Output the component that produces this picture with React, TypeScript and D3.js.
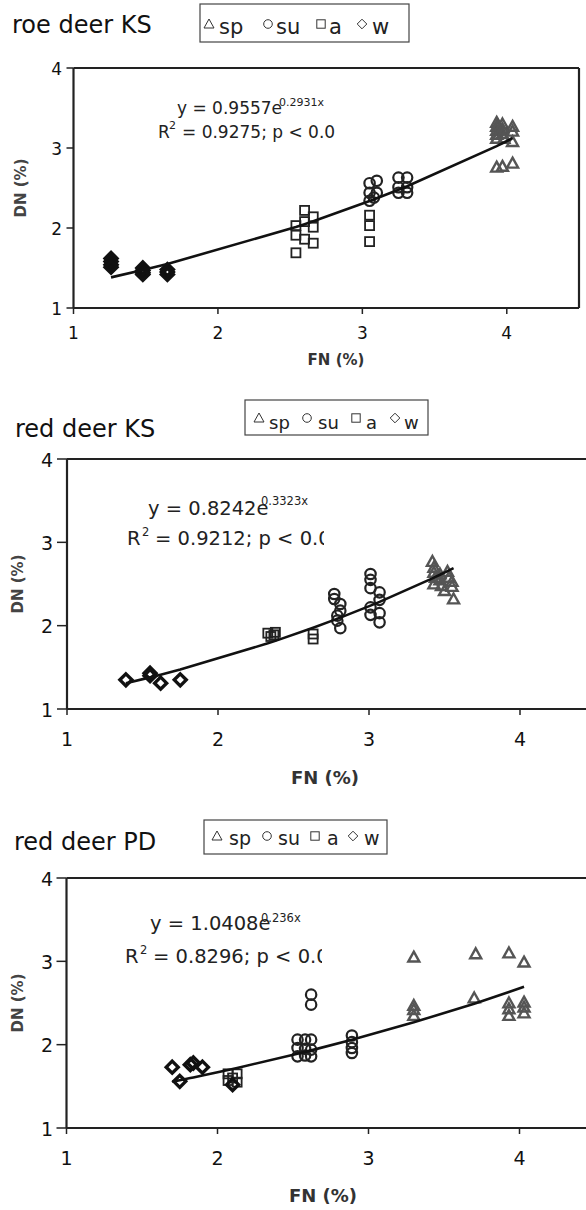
import React from "react";
import * as d3 from "d3";

type Pt = [number, number];

// ---------- roe deer KS ----------
const roeKsSpring: Pt[] = [
  [3.93, 3.32], [3.93, 3.27], [3.93, 3.22], [3.93, 3.17], [3.93, 3.12], [3.94, 3.28],
  [3.97, 3.30], [3.97, 3.24], [3.97, 3.18], [3.98, 3.12], [4.04, 3.27], [4.04, 3.21], [4.04, 3.08],
  [3.93, 2.76], [3.97, 2.77], [4.04, 2.81],
];
const roeKsSummer: Pt[] = [
  [3.05, 2.56], [3.05, 2.44], [3.05, 2.34], [3.10, 2.59], [3.10, 2.44], [3.08, 2.38],
  [3.25, 2.63], [3.25, 2.51], [3.25, 2.44], [3.31, 2.63], [3.31, 2.51], [3.31, 2.44],
];
const roeKsAutumn: Pt[] = [
  [2.54, 2.03], [2.54, 1.91], [2.54, 1.69], [2.60, 2.22], [2.60, 2.08], [2.60, 1.86],
  [2.66, 2.14], [2.66, 2.01], [2.66, 1.81], [3.05, 2.16], [3.05, 2.03], [3.05, 1.83],
];
const roeKsWinter: Pt[] = [
  [1.26, 1.62], [1.26, 1.58], [1.26, 1.54], [1.26, 1.51],
  [1.48, 1.50], [1.48, 1.47], [1.48, 1.44], [1.48, 1.42],
  [1.65, 1.48], [1.65, 1.45], [1.65, 1.42],
];
const roeKsEq = { a: 0.9557, b: 0.2931, aText: "0.9557", bText: "0.2931x", r2: "0.9275" };

// ---------- red deer KS ----------
const redKsSpring: Pt[] = [
  [3.42, 2.77], [3.43, 2.70], [3.43, 2.64], [3.44, 2.58], [3.43, 2.50], [3.47, 2.62],
  [3.47, 2.55], [3.48, 2.48], [3.50, 2.42], [3.52, 2.65], [3.53, 2.58], [3.55, 2.53],
  [3.55, 2.47], [3.56, 2.32],
];
const redKsSummer: Pt[] = [
  [2.77, 2.38], [2.77, 2.32], [2.79, 2.06], [2.81, 2.26], [2.81, 2.18], [2.81, 1.97], [2.79, 2.12],
  [3.01, 2.62], [3.01, 2.55], [3.01, 2.45], [3.01, 2.22], [3.01, 2.13],
  [3.07, 2.40], [3.07, 2.31], [3.07, 2.15], [3.07, 2.04],
];
const redKsAutumn: Pt[] = [
  [2.33, 1.91], [2.35, 1.87], [2.38, 1.92], [2.37, 1.89], [2.63, 1.90], [2.63, 1.84],
];
const redKsWinter: Pt[] = [
  [1.39, 1.35], [1.55, 1.43], [1.55, 1.40], [1.62, 1.31], [1.75, 1.35],
];
const redKsEq = { a: 0.8242, b: 0.3323, aText: "0.8242", bText: "0.3323x", r2: "0.9212" };

// ---------- red deer PD ----------
const redPdSpring: Pt[] = [
  [3.30, 3.05], [3.30, 2.47], [3.30, 2.42], [3.30, 2.35], [3.71, 3.09], [3.70, 2.56],
  [3.93, 3.10], [3.93, 2.50], [3.93, 2.43], [3.93, 2.35], [4.03, 2.99], [4.03, 2.51],
  [4.03, 2.45], [4.03, 2.38],
];
const redPdSummer: Pt[] = [
  [2.53, 2.06], [2.53, 1.96], [2.53, 1.86], [2.58, 2.06], [2.58, 1.95], [2.58, 1.87],
  [2.62, 2.60], [2.62, 2.48], [2.62, 2.06], [2.62, 1.94], [2.62, 1.86],
  [2.89, 2.11], [2.89, 2.03], [2.89, 1.96], [2.89, 1.90],
];
const redPdAutumn: Pt[] = [
  [2.07, 1.65], [2.07, 1.57], [2.13, 1.65], [2.13, 1.55], [2.10, 1.60],
];
const redPdWinter: Pt[] = [
  [1.70, 1.73], [1.75, 1.56], [1.82, 1.76], [1.84, 1.78], [1.90, 1.73], [2.10, 1.52],
];
const redPdEq = { a: 1.0408, b: 0.236, aText: "1.0408", bText: "0.236x", r2: "0.8296" };

const xTicks = [1, 2, 3, 4];
const yTicks = [1, 2, 3, 4];
const legendItems = ["sp", "su", "a", "w"];

const FONT = "'DejaVu Sans', sans-serif";

type Layout = {
  id: string;
  title: string; titleX: number; titleY: number;
  legendBox: [number, number, number, number];
  legendSymX: number[]; legendTxtX: number[]; legendSymY: number; legendTxtY: number; legendFont: number;
  xRange: [number, number]; yRange: [number, number];
  rightBorder: boolean; yTickLen: number;
  tickFont: number; xLabelY: number; yLabelRightX: number;
  xTitleX: number; xTitleY: number; xTitleFont: number;
  yTitleX: number; yTitleY: number; yTitleFont: number;
  eqX: number; eqY: number; eqFont: number; supX: number; supY: number; supFont: number;
  r2X: number; r2Y: number; r2SupX: number; r2RestX: number;
  clipX: number;
};

function Marker({ kind, x, y }: { kind: string; x: number; y: number }) {
  if (kind === "sp") {
    const s = 5.5;
    return (
      <path d={`M${x},${y - s}L${x + s},${y + s * 0.8}L${x - s},${y + s * 0.8}Z`}
        fill="none" stroke="#555" strokeWidth={2.4} />
    );
  }
  if (kind === "su") {
    return <circle cx={x} cy={y} r={5.2} fill="none" stroke="#222" strokeWidth={2.2} />;
  }
  if (kind === "a") {
    return <rect x={x - 4.5} y={y - 4.5} width={9} height={9} fill="none" stroke="#222" strokeWidth={1.8} />;
  }
  const s = 6;
  return (
    <path d={`M${x},${y - s}L${x + s},${y}L${x},${y + s}L${x - s},${y}Z`}
      fill="none" stroke="#111" strokeWidth={3.4} />
  );
}

function LegendSym({ kind, x, y }: { kind: string; x: number; y: number }) {
  const st = { fill: "none", stroke: "#333", strokeWidth: 1 };
  if (kind === "sp") return <path d={`M${x},${y - 5}L${x + 5},${y + 4}L${x - 5},${y + 4}Z`} {...st} />;
  if (kind === "su") return <circle cx={x} cy={y} r={4.3} {...st} />;
  if (kind === "a") return <rect x={x - 4.2} y={y - 4.2} width={8.4} height={8.4} {...st} />;
  return <path d={`M${x},${y - 4.8}L${x + 4.8},${y}L${x},${y + 4.8}L${x - 4.8},${y}Z`} {...st} />;
}

function Panel({ L, series, eq }: { L: Layout; series: { kind: string; pts: Pt[] }[]; eq: typeof roeKsEq }) {
  const x = d3.scaleLinear().domain([1, 4.5]).range(L.xRange);
  const y = d3.scaleLinear().domain([1, 4]).range(L.yRange);
  const all = series.flatMap((s) => s.pts);
  const xs = Array.from(new Set(all.map((p) => p[0]))).sort((a, b) => a - b);
  const fit = xs.map((v) => [v, eq.a * Math.exp(eq.b * v)] as Pt);
  const line = d3.line<Pt>().x((d) => x(d[0])).y((d) => y(d[1]));
  const [x0, x1] = L.xRange;
  const [yb, yt] = L.yRange;
  const right = L.rightBorder ? x1 : 600;
  const [bx, by, bw, bh] = L.legendBox;
  return (
    <g>
      <defs>
        <clipPath id={L.id}>
          <rect x={0} y={yt - 60} width={L.clipX} height={400} />
        </clipPath>
      </defs>
      <text x={L.titleX} y={L.titleY} fontSize={24} fontFamily={FONT} fill="#111">{L.title}</text>
      <rect x={bx} y={by} width={bw} height={bh} fill="none" stroke="#444" strokeWidth={1.2} />
      {legendItems.map((k, i) => (
        <g key={k}>
          <LegendSym kind={k} x={L.legendSymX[i]} y={L.legendSymY} />
          <text x={L.legendTxtX[i]} y={L.legendTxtY} fontSize={L.legendFont} fontFamily={FONT} fill="#222">{k}</text>
        </g>
      ))}
      <line x1={x0} x2={right} y1={yt} y2={yt} stroke="#222" strokeWidth={2.2} />
      {L.rightBorder && <line x1={x1} x2={x1} y1={yt} y2={yb} stroke="#222" strokeWidth={2.2} />}
      <line x1={x0} x2={x0} y1={yt} y2={yb} stroke="#222" strokeWidth={2.2} />
      <line x1={x0} x2={right} y1={yb} y2={yb} stroke="#222" strokeWidth={2.2} />
      {yTicks.map((t) => (
        <g key={"y" + t}>
          <line x1={x0 - L.yTickLen} x2={x0} y1={y(t)} y2={y(t)} stroke="#222" strokeWidth={1.5} />
          <text x={L.yLabelRightX} y={y(t)} dy="0.4em" textAnchor="end" fontSize={L.tickFont} fontFamily={FONT} fill="#111">{t}</text>
        </g>
      ))}
      {xTicks.map((t) => (
        <g key={"x" + t}>
          <line x1={x(t)} x2={x(t)} y1={yb} y2={yb + 6} stroke="#222" strokeWidth={1.5} />
          <text x={x(t)} y={L.xLabelY} dy="0.36em" textAnchor="middle" fontSize={L.tickFont} fontFamily={FONT} fill="#111">{t}</text>
        </g>
      ))}
      <text x={L.xTitleX} y={L.xTitleY} dy="0.36em" textAnchor="middle" fontSize={L.xTitleFont} fontWeight="bold" fontFamily={FONT} fill="#333">FN (%)</text>
      <text transform={`translate(${L.yTitleX},${L.yTitleY}) rotate(-90)`} dy="0.36em" textAnchor="middle" fontSize={L.yTitleFont} fontWeight="bold" fontFamily={FONT} fill="#444">DN (%)</text>
      {series.map((s) => (
        <g key={s.kind}>
          {s.pts.map((p, i) => <Marker key={i} kind={s.kind} x={x(p[0])} y={y(p[1])} />)}
        </g>
      ))}
      <path d={line(fit) || ""} fill="none" stroke="#111" strokeWidth={2.6} />
      <g clipPath={`url(#${L.id})`} fontFamily={FONT} fill="#222">
        <text x={L.eqX} y={L.eqY} fontSize={L.eqFont}>{"y = " + eq.aText + "e"}</text>
        <text x={L.supX} y={L.supY} fontSize={L.supFont}>{eq.bText}</text>
        <text x={L.r2X} y={L.r2Y} fontSize={L.eqFont}>R</text>
        <text x={L.r2SupX} y={L.r2Y - 9} fontSize={L.supFont}>2</text>
        <text x={L.r2RestX} y={L.r2Y} fontSize={L.eqFont}>{"= " + eq.r2 + "; p < 0.0"}</text>
      </g>
    </g>
  );
}

const L1: Layout = {
  id: "c1", title: "roe deer KS", titleX: 12, titleY: 33,
  legendBox: [200, 4, 209, 38],
  legendSymX: [209, 268, 321, 362], legendTxtX: [219, 276, 329, 372], legendSymY: 24, legendTxtY: 34, legendFont: 21,
  xRange: [73.5, 579], yRange: [308, 68], rightBorder: true, yTickLen: 7,
  tickFont: 17, xLabelY: 333, yLabelRightX: 62,
  xTitleX: 336, xTitleY: 360, xTitleFont: 15,
  yTitleX: 21, yTitleY: 188, yTitleFont: 15,
  eqX: 177, eqY: 114, eqFont: 17, supX: 279, supY: 106, supFont: 11,
  r2X: 158, r2Y: 138, r2SupX: 169, r2RestX: 182, clipX: 340,
};
const L2: Layout = {
  id: "c2", title: "red deer KS", titleX: 15, titleY: 437,
  legendBox: [245, 400, 183, 35],
  legendSymX: [259, 307, 356, 395], legendTxtX: [269, 318, 366, 404], legendSymY: 418, legendTxtY: 429, legendFont: 18,
  xRange: [67, 595.5], yRange: [709, 459], rightBorder: false, yTickLen: 10,
  tickFont: 19, xLabelY: 739, yLabelRightX: 53,
  xTitleX: 325, xTitleY: 778, xTitleFont: 18,
  yTitleX: 18, yTitleY: 584, yTitleFont: 15,
  eqX: 148, eqY: 515, eqFont: 19.5, supX: 261, supY: 505, supFont: 11.5,
  r2X: 127, r2Y: 545, r2SupX: 142, r2RestX: 155, clipX: 324,
};
const L3: Layout = {
  id: "c3", title: "red deer PD", titleX: 14, titleY: 850,
  legendBox: [204, 820, 183, 34],
  legendSymX: [217, 267, 315, 353], legendTxtX: [229, 278, 327, 364], legendSymY: 836, legendTxtY: 845, legendFont: 19,
  xRange: [66.5, 595], yRange: [1128, 878], rightBorder: false, yTickLen: 10,
  tickFont: 19, xLabelY: 1158, yLabelRightX: 53,
  xTitleX: 323, xTitleY: 1196, xTitleFont: 18,
  yTitleX: 18, yTitleY: 1003, yTitleFont: 15,
  eqX: 150, eqY: 930, eqFont: 19.5, supX: 261, supY: 922, supFont: 11.5,
  r2X: 125, r2Y: 963, r2SupX: 140, r2RestX: 153, clipX: 322,
};

export default function App() {
  return (
    <svg width={586} height={1210} style={{ position: "absolute", left: 0, top: 0, background: "#fff" }}>
      <rect width={586} height={1210} fill="#fff" />
      <Panel L={L1} eq={roeKsEq} series={[
        { kind: "a", pts: roeKsAutumn }, { kind: "w", pts: roeKsWinter },
        { kind: "su", pts: roeKsSummer }, { kind: "sp", pts: roeKsSpring },
      ]} />
      <Panel L={L2} eq={redKsEq} series={[
        { kind: "a", pts: redKsAutumn }, { kind: "w", pts: redKsWinter },
        { kind: "su", pts: redKsSummer }, { kind: "sp", pts: redKsSpring },
      ]} />
      <Panel L={L3} eq={redPdEq} series={[
        { kind: "a", pts: redPdAutumn }, { kind: "w", pts: redPdWinter },
        { kind: "su", pts: redPdSummer }, { kind: "sp", pts: redPdSpring },
      ]} />
    </svg>
  );
}
